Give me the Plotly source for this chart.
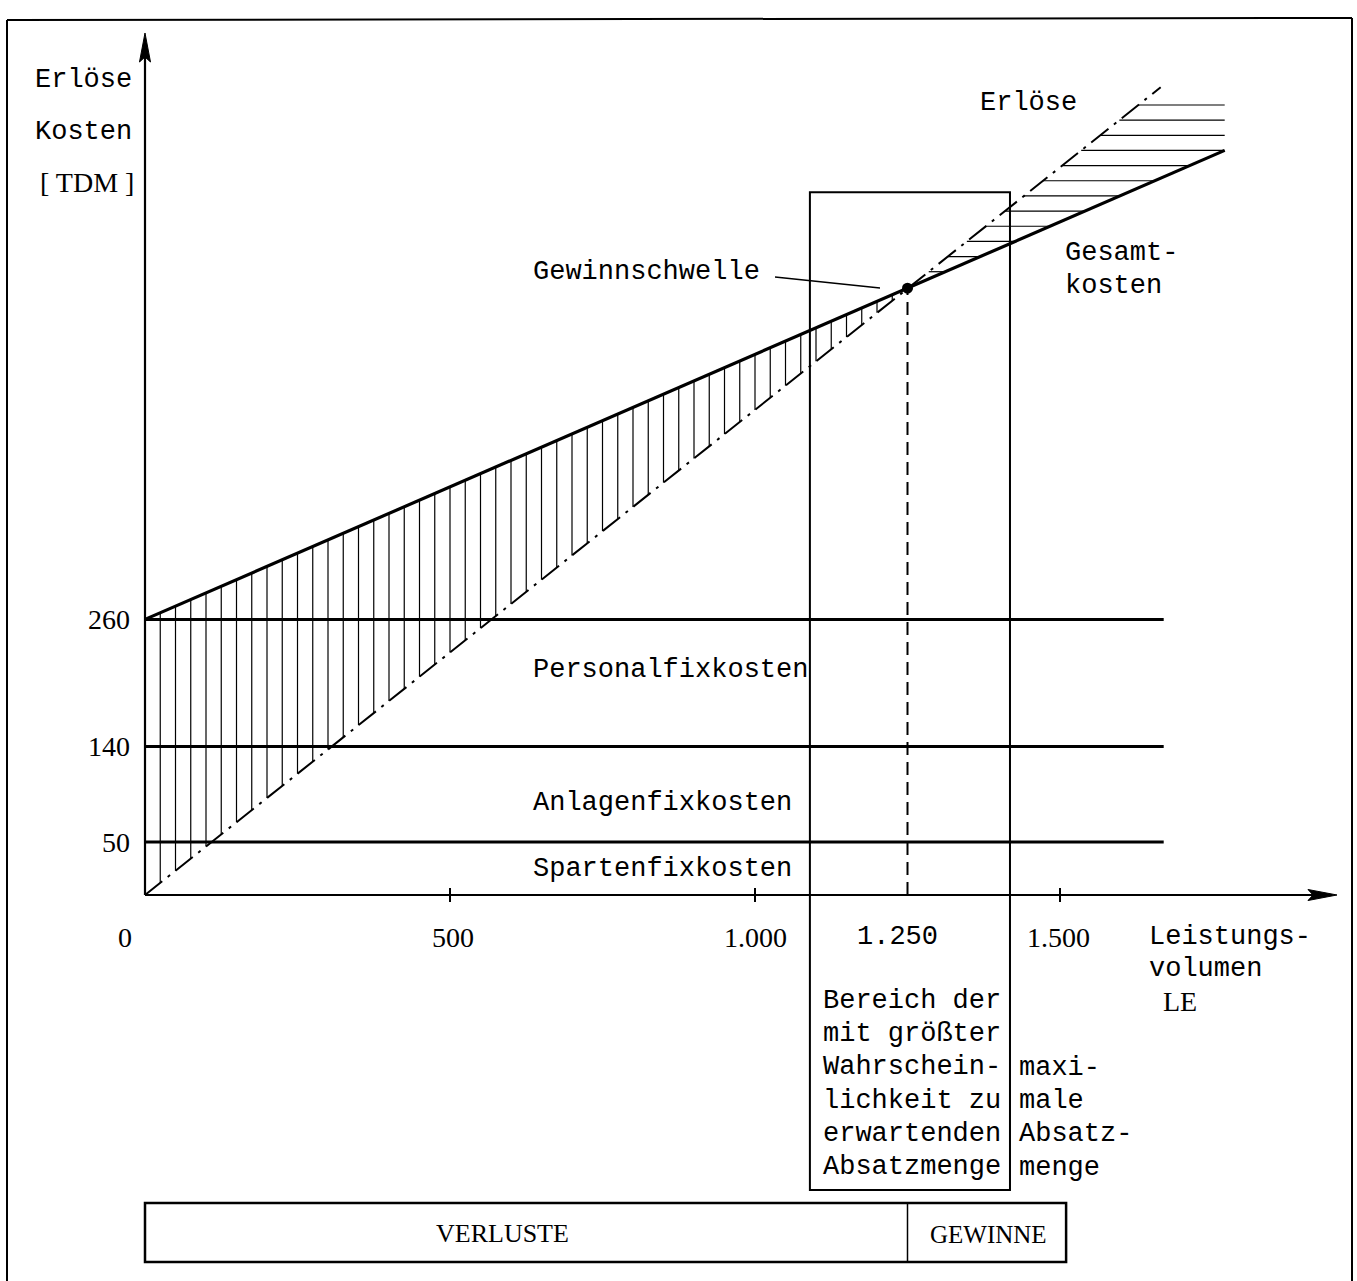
import numpy as np
import plotly.graph_objects as go

# ---------------- data ----------------
x_tick_vals = [0, 500, 1000, 1250, 1500]
x_tick_text = ["0", "500", "1.000", "1.250", "1.500"]
fixed_cost_levels = [50, 140, 260]          # cumulative fixed costs [TDM]
fixed_cost_labels = ["Spartenfixkosten", "Anlagenfixkosten", "Personalfixkosten"]
y_tick_text = ["50", "140", "260"]
revenue_x = [0, 1665]                       # Erlöse (LE)
revenue_y = [0, 762]                        # Erlöse (TDM)
cost_x = [0, 1770]                          # Gesamtkosten (LE)
cost_y = [260, 702.5]                       # Gesamtkosten (TDM)
fixed_line_x = [0, 1670]
break_even = (1250, 572.5)                  # Gewinnschwelle
likely_range = [1090, 1418]                 # Bereich der wahrscheinlichsten Absatzmenge
likely_top = 663
bar_bounds = [0, 1250, 1510]                # VERLUSTE | GEWINNE
bar_labels = ["VERLUSTE", "GEWINNE"]
box_text = ["Bereich der", "mit größter", "Wahrschein-", "lichkeit zu", "erwartenden", "Absatzmenge"]
max_text = ["maxi-", "male", "Absatz-", "menge"]

# ---------------- geometry / style ----------------
W, H = 1357, 1281
X0, SX = 145, 0.61
Y0, SY = 895, 1.06
xr = [-X0 / SX, (W - X0) / SX]
yr = [-(H - Y0) / SY, Y0 / SY]
MONO = "Liberation Mono"
SERIF = "Liberation Serif"
BLACK = "black"


def ux(px):
    return (px - X0) / SX


def uy(py):
    return (Y0 - py) / SY


def pp(px, py):
    return f"{px / W:.5f},{1 - py / H:.5f}"


fig = go.Figure()

# vertical hatching (loss area)
hx, hy = [], []
for xv in np.arange(25, break_even[0], 25):
    lo = np.interp(xv, revenue_x, revenue_y)
    hi = np.interp(xv, cost_x, cost_y)
    if hi > lo:
        hx += [xv, xv, None]
        hy += [lo, hi, None]
# horizontal hatching (profit area)
for k in range(12):
    yv = 588 + 14.3 * k
    xl = np.interp(yv, revenue_y, revenue_x)
    xrgt = np.interp(yv, cost_y, cost_x)
    if xrgt > xl:
        hx += [xl, xrgt, None]
        hy += [yv, yv, None]
fig.add_trace(go.Scatter(x=hx, y=hy, mode="lines", line=dict(color=BLACK, width=1.2),
                         hoverinfo="skip", showlegend=False))

# fixed cost lines
for lvl in fixed_cost_levels:
    fig.add_trace(go.Scatter(x=fixed_line_x, y=[lvl, lvl], mode="lines",
                             line=dict(color=BLACK, width=3), showlegend=False))

# revenue line (dash-dot)
fig.add_trace(go.Scatter(x=revenue_x, y=revenue_y, mode="lines",
                         line=dict(color=BLACK, width=2, dash="22px,7px,3px,7px"), showlegend=False))
# total cost line
fig.add_trace(go.Scatter(x=cost_x, y=cost_y, mode="lines",
                         line=dict(color=BLACK, width=3.2), showlegend=False))
# dashed vertical at break-even
fig.add_trace(go.Scatter(x=[break_even[0], break_even[0]], y=[0, break_even[1]], mode="lines",
                         line=dict(color=BLACK, width=2, dash="13px,7px"), showlegend=False))
# break-even point
fig.add_trace(go.Scatter(x=[break_even[0]], y=[break_even[1]], mode="markers",
                         marker=dict(color=BLACK, size=11), showlegend=False))

# tick marks on x axis
tx, ty = [], []
for v in [500, 1000, 1500]:
    tx += [v, v, None]
    ty += [-6.5, 6.5, None]
fig.add_trace(go.Scatter(x=tx, y=ty, mode="lines", line=dict(color=BLACK, width=2), showlegend=False))

shapes = []
# axes lines
shapes.append(dict(type="line", xref="x", yref="y", x0=0, y0=0, x1=0, y1=uy(50),
                   line=dict(color=BLACK, width=2.2)))
shapes.append(dict(type="line", xref="x", yref="y", x0=0, y0=0, x1=ux(1320), y1=0,
                   line=dict(color=BLACK, width=2.2)))
# arrowheads
shapes.append(dict(type="path", xref="paper", yref="paper",
                   path=f"M{pp(145, 33)} L{pp(150.5, 62)} L{pp(145, 57)} L{pp(139.5, 62)} Z",
                   fillcolor=BLACK, line=dict(color=BLACK, width=1)))
shapes.append(dict(type="path", xref="paper", yref="paper",
                   path=f"M{pp(1337, 895)} L{pp(1308, 889.5)} L{pp(1313, 895)} L{pp(1308, 900.5)} Z",
                   fillcolor=BLACK, line=dict(color=BLACK, width=1)))
# likely-range box
shapes.append(dict(type="rect", xref="x", yref="y", x0=likely_range[0], x1=likely_range[1],
                   y0=uy(1190), y1=likely_top, line=dict(color=BLACK, width=2)))
# Gewinnschwelle pointer
shapes.append(dict(type="line", xref="x", yref="y", x0=ux(775), y0=uy(277), x1=ux(880), y1=uy(288),
                   line=dict(color=BLACK, width=1.5)))
# VERLUSTE / GEWINNE bar
by0, by1 = 1 - 1262 / H, 1 - 1203 / H
shapes.append(dict(type="rect", xref="x", yref="paper", x0=bar_bounds[0], x1=bar_bounds[2],
                   y0=by0, y1=by1, line=dict(color=BLACK, width=2.5)))
shapes.append(dict(type="line", xref="x", yref="paper", x0=bar_bounds[1], x1=bar_bounds[1],
                   y0=by0, y1=by1, line=dict(color=BLACK, width=1.5)))
# outer frame (left, top, right)
for (a, b, c, d) in [(7, 1281, 7, 20), (7, 20, 1352, 18), (1352, 18, 1352, 1281)]:
    shapes.append(dict(type="line", xref="paper", yref="paper", x0=a / W, y0=1 - b / H,
                       x1=c / W, y1=1 - d / H, line=dict(color=BLACK, width=2)))

ann = []


def txt(s, px, py, family=MONO, size=27, xanchor="left"):
    ann.append(dict(text=s, x=px / W, y=1 - py / H, xref="paper", yref="paper",
                    xanchor=xanchor, yanchor="middle", showarrow=False,
                    font=dict(family=family, size=size, color=BLACK)))


# y-axis title
txt("Erlöse", 33, 80)
txt("Kosten", 33, 132)
txt("[ TDM ]", 87, 183, family=SERIF, size=28, xanchor="center")

# y tick labels
for lvl, t in zip(fixed_cost_levels, y_tick_text):
    ann.append(dict(text=t, x=0, y=lvl, xref="x", yref="y", xanchor="right", yanchor="middle",
                    xshift=-13, showarrow=False, font=dict(family=SERIF, size=28, color=BLACK)))

# x tick labels
shifts = {0: -20, 500: 3, 1000: 0, 1250: -10, 1500: -2}
for v, t in zip(x_tick_vals, x_tick_text):
    fam = MONO if v == 1250 else SERIF
    ann.append(dict(text=t, x=v, y=1 - 937 / H, xref="x", yref="paper", xanchor="center",
                    yanchor="middle", xshift=shifts[v], showarrow=False,
                    font=dict(family=fam, size=28 if fam == SERIF else 27, color=BLACK)))

# line labels
txt("Erlöse", 978, 103)
txt("Gewinnschwelle", 531, 272)
txt("Gesamt-", 1063, 253)
txt("kosten", 1063, 286)
txt(fixed_cost_labels[2], 531, 670)
txt(fixed_cost_labels[1], 531, 803)
txt(fixed_cost_labels[0], 531, 869)

# x-axis title
txt("Leistungs-", 1147, 937)
txt("volumen", 1147, 969)
txt("LE", 1180, 1001, family=SERIF, size=28, xanchor="center")

# box texts
for i, s in enumerate(box_text):
    txt(s, 821, 1001 + 33.2 * i)
for i, s in enumerate(max_text):
    txt(s, 1017, 1068 + 33.2 * i)

# bar labels
txt(bar_labels[0], 502, 1233, family=SERIF, size=26, xanchor="center")
txt(bar_labels[1], 989, 1234, family=SERIF, size=25, xanchor="center")

fig.update_layout(
    width=W, height=H, margin=dict(l=0, r=0, t=0, b=0),
    paper_bgcolor="white", plot_bgcolor="white",
    xaxis=dict(range=xr, visible=False, fixedrange=True),
    yaxis=dict(range=yr, visible=False, fixedrange=True),
    shapes=shapes, annotations=ann, showlegend=False,
)

fig.write_html("out.html", post_script="document.body.style.margin='0';",
               config={"displayModeBar": False})
